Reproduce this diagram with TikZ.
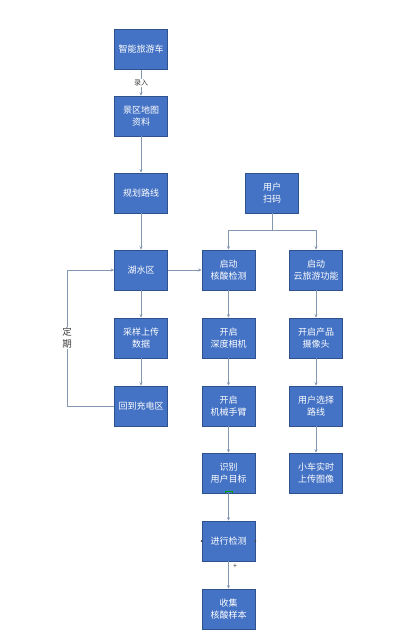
\documentclass[tikz,border=0pt]{standalone}
\usepackage{fontspec}
\setmainfont{Noto Sans CJK SC}
\usetikzlibrary{arrows.meta}
\definecolor{boxblue}{HTML}{4472C4}
\definecolor{boxedge}{HTML}{2F528F}
\definecolor{linegray}{HTML}{8497B0}
\definecolor{labgray}{HTML}{404040}
\begin{document}
\begin{tikzpicture}[x=1pt,y=-1pt,
  box/.style={draw=boxedge, fill=boxblue, line width=0.6pt, minimum width=53pt, minimum height=40pt, inner sep=0pt, text=white, font=\fontsize{9}{12}\selectfont, align=center},
  conn/.style={draw=linegray, line width=0.7pt, -{Stealth[length=3.5pt,width=3pt]}},
  plain/.style={draw=linegray, line width=0.7pt},
  lab/.style={fill=white, inner sep=1pt, text=labgray, align=center}]
\fill[white] (0,0) rectangle (400,641);
\useasboundingbox (0,0) rectangle (400,641);
% column 1
\node[box] (a) at (141,49.5) {智能旅游车};
\node[box] (b) at (141,116) {景区地图\\资料};
\node[box] (c) at (141,193) {规划路线};
\node[box] (d) at (141,270) {湖水区};
\node[box] (e) at (141,338) {采样上传\\数据};
\node[box] (f) at (141,406) {回到充电区};
% column 2
\node[box] (u) at (272,193) {用户\\扫码};
\node[box] (g) at (228.5,270) {启动\\核酸检测};
\node[box] (h) at (228.5,338) {开启\\深度相机};
\node[box] (i) at (228.5,406) {开启\\机械手臂};
\node[box] (j) at (228.5,473) {识别\\用户目标};
\node[box] (k) at (228.5,541) {进行检测};
\node[box] (l) at (228.5,609) {收集\\核酸样本};
% column 3
\node[box] (m) at (316,270) {启动\\云旅游功能};
\node[box] (n) at (316,338) {开启产品\\摄像头};
\node[box] (o) at (316,406) {用户选择\\路线};
\node[box] (p) at (316,473) {小车实时\\上传图像};
% connectors
\draw[conn] (a) -- node[lab, font=\fontsize{7}{8}\selectfont] (lr) {录入} (b);
\draw[conn] (b) -- (c);
\draw[conn] (c) -- (d);
\draw[conn] (d) -- (e);
\draw[conn] (e) -- (f);
\coordinate (lp) at (67,406);
\draw[conn] (f.west) -- (lp) |- (d.west);
\node[lab, font=\fontsize{9.5}{12}\selectfont] (dq) at (67,338) {定\\期};
\draw[conn] (d) -- (g);
\coordinate (sp) at (272,230);
\draw[plain] (u.south) -- (sp);
\draw[conn] (sp) -| (g.north);
\draw[conn] (sp) -| (m.north);
\draw[conn] (g) -- (h);
\draw[conn] (h) -- (i);
\draw[conn] (i) -- (j);
\draw[conn] (j) -- (k);
\draw[conn] (k) -- (l);
\draw[conn] (m) -- (n);
\draw[conn] (n) -- (o);
\draw[conn] (o) -- (p);
% editing marks
\draw[green!65!black, line width=1pt] ([xshift=-3.5pt]j.south) -- ++(0,-2) -- ++(7,0) -- ++(0,2);
\fill[labgray] (k.west) circle (1pt);
\fill[labgray] (k.east) circle (1pt);
\node[text=labgray, font=\fontsize{7}{8}\selectfont, inner sep=0pt] (pl) at (235,566) {+};
\end{tikzpicture}
\end{document}
